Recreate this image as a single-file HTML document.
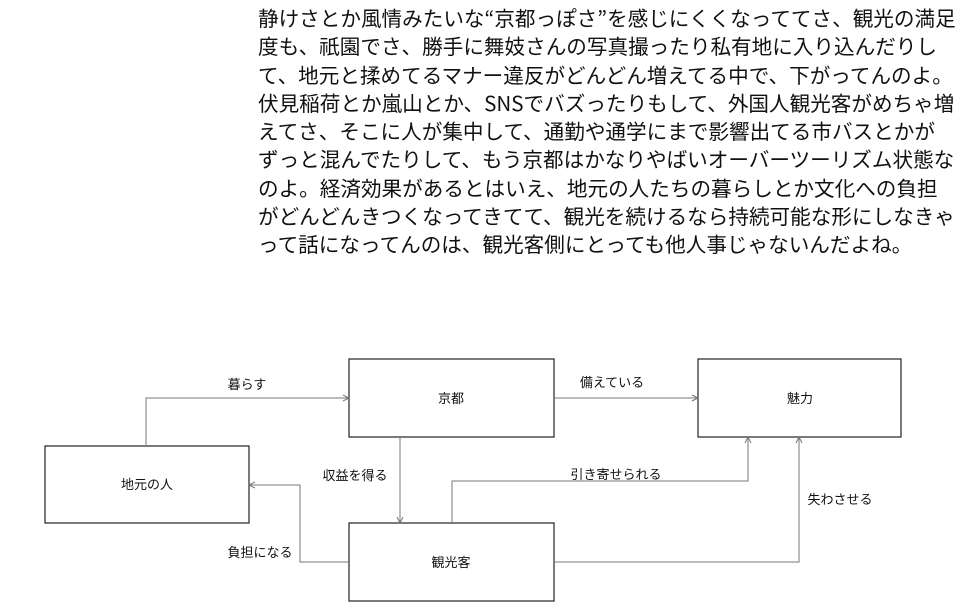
<!DOCTYPE html>
<html><head><meta charset="utf-8"><style>
body{margin:0;width:979px;height:613px;background:#fff;overflow:hidden;font-family:"Noto Sans CJK JP",sans-serif;}
.t{position:absolute;left:258px;top:3px;white-space:nowrap;font-size:20.6px;line-height:28.3px;color:#111;}
svg{position:absolute;left:0;top:0}
</style></head><body>
<div class="t">静けさとか風情みたいな“京都っぽさ”を感じにくくなっててさ、観光の満足<br>度も、祇園でさ、勝手に舞妓さんの写真撮ったり私有地に入り込んだりし<br>て、地元と揉めてるマナー違反がどんどん増えてる中で、下がってんのよ。<br>伏見稲荷とか嵐山とか、SNSでバズったりもして、外国人観光客がめちゃ増<br>えてさ、そこに人が集中して、通勤や通学にまで影響出てる市バスとかが<br>ずっと混んでたりして、もう京都はかなりやばいオーバーツーリズム状態な<br>のよ。経済効果があるとはいえ、地元の人たちの暮らしとか文化への負担<br>がどんどんきつくなってきてて、観光を続けるなら持続可能な形にしなきゃ<br>って話になってんのは、観光客側にとっても他人事じゃないんだよね。</div>
<svg width="979" height="613" font-family="Noto Sans CJK JP, sans-serif" font-size="13" fill="#111">
<g fill="#fff" stroke="#222" stroke-width="1.2">
<rect x="349" y="359" width="205" height="78"/>
<rect x="698" y="359" width="203" height="78"/>
<rect x="45" y="446" width="204" height="77"/>
<rect x="349" y="523" width="205" height="78"/>
</g>
<g fill="none" stroke="#777" stroke-width="1">
<polyline points="146,446 146,398 349,398"/>
<polyline points="554,398 698,398"/>
<polyline points="400,437 400,523"/>
<polyline points="349,562 300,562 300,485 249,485"/>
<polyline points="452,523 452,481 748,481 748,437"/>
<polyline points="554,562 799,562 799,437"/>
<polyline points="343,395 349,398 343,401"/>
<polyline points="692,395 698,398 692,401"/>
<polyline points="397,517 400,523 403,517"/>
<polyline points="255,482 249,485 255,488"/>
<polyline points="745,443 748,437 751,443"/>
<polyline points="796,443 799,437 802,443"/>
</g>
<g text-anchor="middle">
<text x="451" y="403">京都</text>
<text x="800" y="403">魅力</text>
<text x="147" y="489">地元の人</text>
<text x="451" y="567">観光客</text>
<text x="247" y="389">暮らす</text>
<text x="612" y="387">備えている</text>
<text x="355" y="480">収益を得る</text>
<text x="616" y="479">引き寄せられる</text>
<text x="840" y="504">失わさせる</text>
<text x="260" y="557">負担になる</text>
</g>
</svg>
</body></html>
